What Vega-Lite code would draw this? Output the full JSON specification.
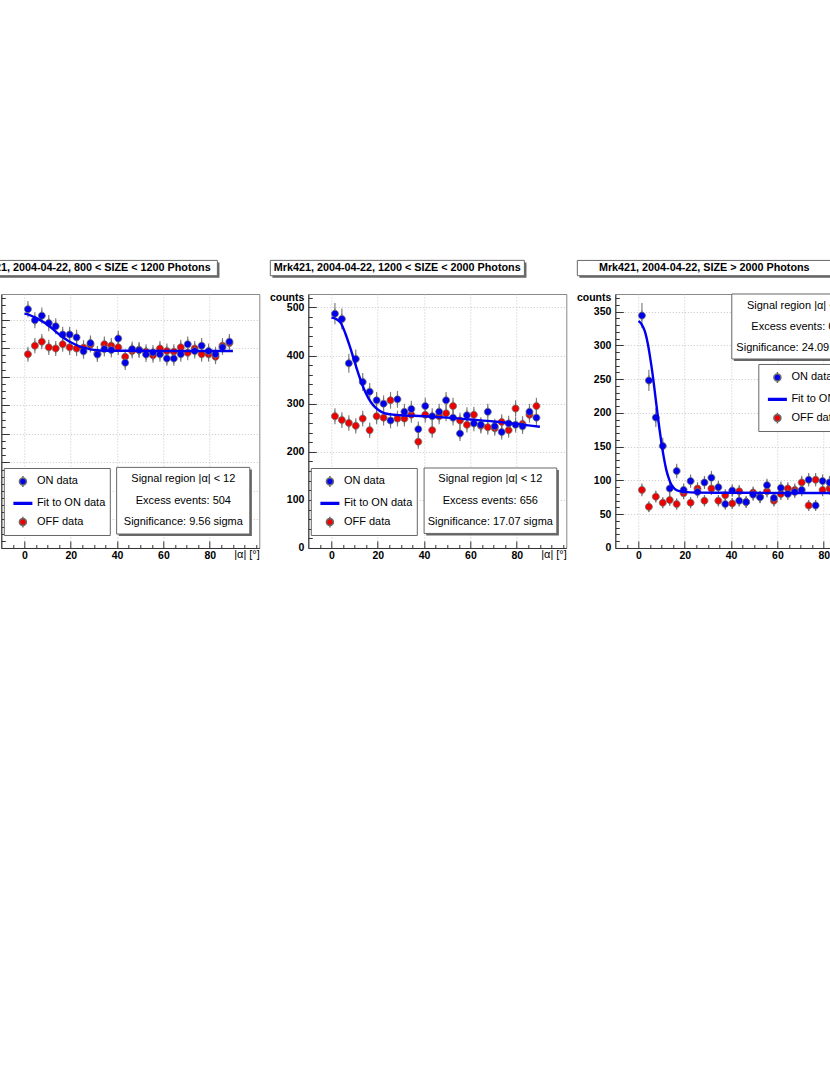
{
  "$schema": "https://vega.github.io/schema/vega-lite/v6.json",
  "description": "Mrk421 2004-04-22 alpha plots, ON vs OFF data in three SIZE bins",
  "background": "white",
  "autosize": {"type": "pad"},
  "padding": {"left": -38.7, "top": 259, "right": -41, "bottom": 0},
  "spacing": 49,
  "bounds": "flush",
  "config": {
    "font": "Liberation Sans",
    "view": {"stroke": "#888888"},
    "axis": {
      "labelFont": "Liberation Sans",
      "labelFontSize": 10.5,
      "labelFontWeight": "bold",
      "labelColor": "#000000",
      "labelFlush": false,
      "labelOverlap": false,
      "domainColor": "#333333",
      "tickColor": "#333333",
      "gridColor": "#c4c4c4",
      "gridDash": [1, 2],
      "titleFont": "Liberation Sans",
      "titleColor": "#000000"
    },
    "legend": {"labelFont": "Liberation Sans", "labelFontSize": 11, "labelColor": "#000000"}
  },
  "resolve": {
    "scale": {"color": "independent", "shape": "independent", "stroke": "independent"},
    "legend": {"color": "independent", "shape": "independent", "stroke": "independent"}
  },
  "datasets": {
    "pts800": [
      {"series": "OFF data", "alpha": 1.5, "counts": 679, "err": 26.1},
      {"series": "OFF data", "alpha": 4.5, "counts": 709, "err": 26.6},
      {"series": "OFF data", "alpha": 7.5, "counts": 723, "err": 26.9},
      {"series": "OFF data", "alpha": 10.5, "counts": 703, "err": 26.5},
      {"series": "OFF data", "alpha": 13.5, "counts": 699, "err": 26.4},
      {"series": "OFF data", "alpha": 16.5, "counts": 714, "err": 26.7},
      {"series": "OFF data", "alpha": 19.5, "counts": 703, "err": 26.5},
      {"series": "OFF data", "alpha": 22.5, "counts": 699, "err": 26.4},
      {"series": "OFF data", "alpha": 25.5, "counts": 702, "err": 26.5},
      {"series": "OFF data", "alpha": 28.5, "counts": 712, "err": 26.7},
      {"series": "OFF data", "alpha": 31.5, "counts": 682, "err": 26.1},
      {"series": "OFF data", "alpha": 34.5, "counts": 714, "err": 26.7},
      {"series": "OFF data", "alpha": 37.5, "counts": 709, "err": 26.6},
      {"series": "OFF data", "alpha": 40.5, "counts": 703, "err": 26.5},
      {"series": "OFF data", "alpha": 43.5, "counts": 670, "err": 25.9},
      {"series": "OFF data", "alpha": 46.5, "counts": 690, "err": 26.3},
      {"series": "OFF data", "alpha": 49.5, "counts": 695, "err": 26.4},
      {"series": "OFF data", "alpha": 52.5, "counts": 688, "err": 26.2},
      {"series": "OFF data", "alpha": 55.5, "counts": 675, "err": 26.0},
      {"series": "OFF data", "alpha": 58.5, "counts": 699, "err": 26.4},
      {"series": "OFF data", "alpha": 61.5, "counts": 690, "err": 26.3},
      {"series": "OFF data", "alpha": 64.5, "counts": 688, "err": 26.2},
      {"series": "OFF data", "alpha": 67.5, "counts": 703, "err": 26.5},
      {"series": "OFF data", "alpha": 70.5, "counts": 684, "err": 26.2},
      {"series": "OFF data", "alpha": 73.5, "counts": 699, "err": 26.4},
      {"series": "OFF data", "alpha": 76.5, "counts": 679, "err": 26.1},
      {"series": "OFF data", "alpha": 79.5, "counts": 679, "err": 26.1},
      {"series": "OFF data", "alpha": 82.5, "counts": 670, "err": 25.9},
      {"series": "OFF data", "alpha": 85.5, "counts": 709, "err": 26.6},
      {"series": "OFF data", "alpha": 88.5, "counts": 718, "err": 26.8},
      {"series": "ON data", "alpha": 1.5, "counts": 837, "err": 28.9},
      {"series": "ON data", "alpha": 4.5, "counts": 798, "err": 28.2},
      {"series": "ON data", "alpha": 7.5, "counts": 814, "err": 28.5},
      {"series": "ON data", "alpha": 10.5, "counts": 788, "err": 28.1},
      {"series": "ON data", "alpha": 13.5, "counts": 777, "err": 27.9},
      {"series": "ON data", "alpha": 16.5, "counts": 748, "err": 27.3},
      {"series": "ON data", "alpha": 19.5, "counts": 748, "err": 27.3},
      {"series": "ON data", "alpha": 22.5, "counts": 738, "err": 27.2},
      {"series": "ON data", "alpha": 25.5, "counts": 689, "err": 26.2},
      {"series": "ON data", "alpha": 28.5, "counts": 718, "err": 26.8},
      {"series": "ON data", "alpha": 31.5, "counts": 678, "err": 26.0},
      {"series": "ON data", "alpha": 34.5, "counts": 697, "err": 26.4},
      {"series": "ON data", "alpha": 37.5, "counts": 694, "err": 26.3},
      {"series": "ON data", "alpha": 40.5, "counts": 734, "err": 27.1},
      {"series": "ON data", "alpha": 43.5, "counts": 649, "err": 25.5},
      {"series": "ON data", "alpha": 46.5, "counts": 697, "err": 26.4},
      {"series": "ON data", "alpha": 49.5, "counts": 693, "err": 26.3},
      {"series": "ON data", "alpha": 52.5, "counts": 678, "err": 26.0},
      {"series": "ON data", "alpha": 55.5, "counts": 685, "err": 26.2},
      {"series": "ON data", "alpha": 58.5, "counts": 679, "err": 26.1},
      {"series": "ON data", "alpha": 61.5, "counts": 664, "err": 25.8},
      {"series": "ON data", "alpha": 64.5, "counts": 664, "err": 25.8},
      {"series": "ON data", "alpha": 67.5, "counts": 679, "err": 26.1},
      {"series": "ON data", "alpha": 70.5, "counts": 714, "err": 26.7},
      {"series": "ON data", "alpha": 73.5, "counts": 690, "err": 26.3},
      {"series": "ON data", "alpha": 76.5, "counts": 709, "err": 26.6},
      {"series": "ON data", "alpha": 79.5, "counts": 690, "err": 26.3},
      {"series": "ON data", "alpha": 82.5, "counts": 679, "err": 26.1},
      {"series": "ON data", "alpha": 85.5, "counts": 703, "err": 26.5},
      {"series": "ON data", "alpha": 88.5, "counts": 723, "err": 26.9}
    ],
    "fit800": [
      {"alpha": 0, "fit": 821}, {"alpha": 2, "fit": 817}, {"alpha": 4, "fit": 810},
      {"alpha": 6, "fit": 802}, {"alpha": 8, "fit": 793}, {"alpha": 10, "fit": 782},
      {"alpha": 12, "fit": 769}, {"alpha": 14, "fit": 755}, {"alpha": 16, "fit": 742},
      {"alpha": 18, "fit": 731}, {"alpha": 20, "fit": 721}, {"alpha": 22, "fit": 713},
      {"alpha": 24, "fit": 706}, {"alpha": 26, "fit": 701}, {"alpha": 28, "fit": 697},
      {"alpha": 30, "fit": 694}, {"alpha": 33, "fit": 692}, {"alpha": 36, "fit": 691},
      {"alpha": 45, "fit": 691}, {"alpha": 60, "fit": 690.5}, {"alpha": 90, "fit": 690.5}
    ],
    "pts1200": [
      {"series": "OFF data", "alpha": 1.5, "counts": 274, "err": 16.6},
      {"series": "OFF data", "alpha": 4.5, "counts": 266, "err": 16.3},
      {"series": "OFF data", "alpha": 7.5, "counts": 260, "err": 16.1},
      {"series": "OFF data", "alpha": 10.5, "counts": 254, "err": 15.9},
      {"series": "OFF data", "alpha": 13.5, "counts": 269, "err": 16.4},
      {"series": "OFF data", "alpha": 16.5, "counts": 245, "err": 15.7},
      {"series": "OFF data", "alpha": 19.5, "counts": 274, "err": 16.6},
      {"series": "OFF data", "alpha": 22.5, "counts": 271, "err": 16.5},
      {"series": "OFF data", "alpha": 25.5, "counts": 307, "err": 17.5},
      {"series": "OFF data", "alpha": 28.5, "counts": 269, "err": 16.4},
      {"series": "OFF data", "alpha": 31.5, "counts": 269, "err": 16.4},
      {"series": "OFF data", "alpha": 34.5, "counts": 277, "err": 16.6},
      {"series": "OFF data", "alpha": 37.5, "counts": 221, "err": 14.9},
      {"series": "OFF data", "alpha": 40.5, "counts": 277, "err": 16.6},
      {"series": "OFF data", "alpha": 43.5, "counts": 245, "err": 15.7},
      {"series": "OFF data", "alpha": 46.5, "counts": 274, "err": 16.6},
      {"series": "OFF data", "alpha": 49.5, "counts": 280, "err": 16.7},
      {"series": "OFF data", "alpha": 52.5, "counts": 295, "err": 17.2},
      {"series": "OFF data", "alpha": 55.5, "counts": 265, "err": 16.3},
      {"series": "OFF data", "alpha": 58.5, "counts": 256, "err": 16.0},
      {"series": "OFF data", "alpha": 61.5, "counts": 277, "err": 16.6},
      {"series": "OFF data", "alpha": 64.5, "counts": 254, "err": 15.9},
      {"series": "OFF data", "alpha": 67.5, "counts": 251, "err": 15.8},
      {"series": "OFF data", "alpha": 70.5, "counts": 249, "err": 15.8},
      {"series": "OFF data", "alpha": 73.5, "counts": 262, "err": 16.2},
      {"series": "OFF data", "alpha": 76.5, "counts": 245, "err": 15.7},
      {"series": "OFF data", "alpha": 79.5, "counts": 290, "err": 17.0},
      {"series": "OFF data", "alpha": 82.5, "counts": 258, "err": 16.1},
      {"series": "OFF data", "alpha": 85.5, "counts": 277, "err": 16.6},
      {"series": "OFF data", "alpha": 88.5, "counts": 295, "err": 17.2},
      {"series": "ON data", "alpha": 1.5, "counts": 487, "err": 22.1},
      {"series": "ON data", "alpha": 4.5, "counts": 476, "err": 21.8},
      {"series": "ON data", "alpha": 7.5, "counts": 384, "err": 19.6},
      {"series": "ON data", "alpha": 10.5, "counts": 393, "err": 19.8},
      {"series": "ON data", "alpha": 13.5, "counts": 345, "err": 18.6},
      {"series": "ON data", "alpha": 16.5, "counts": 325, "err": 18.0},
      {"series": "ON data", "alpha": 19.5, "counts": 307, "err": 17.5},
      {"series": "ON data", "alpha": 22.5, "counts": 300, "err": 17.3},
      {"series": "ON data", "alpha": 25.5, "counts": 265, "err": 16.3},
      {"series": "ON data", "alpha": 28.5, "counts": 309, "err": 17.6},
      {"series": "ON data", "alpha": 31.5, "counts": 283, "err": 16.8},
      {"series": "ON data", "alpha": 34.5, "counts": 289, "err": 17.0},
      {"series": "ON data", "alpha": 37.5, "counts": 247, "err": 15.7},
      {"series": "ON data", "alpha": 40.5, "counts": 295, "err": 17.2},
      {"series": "ON data", "alpha": 43.5, "counts": 274, "err": 16.6},
      {"series": "ON data", "alpha": 46.5, "counts": 283, "err": 16.8},
      {"series": "ON data", "alpha": 49.5, "counts": 307, "err": 17.5},
      {"series": "ON data", "alpha": 52.5, "counts": 271, "err": 16.5},
      {"series": "ON data", "alpha": 55.5, "counts": 238, "err": 15.4},
      {"series": "ON data", "alpha": 58.5, "counts": 276, "err": 16.6},
      {"series": "ON data", "alpha": 61.5, "counts": 259, "err": 16.1},
      {"series": "ON data", "alpha": 64.5, "counts": 256, "err": 16.0},
      {"series": "ON data", "alpha": 67.5, "counts": 283, "err": 16.8},
      {"series": "ON data", "alpha": 70.5, "counts": 253, "err": 15.9},
      {"series": "ON data", "alpha": 73.5, "counts": 241, "err": 15.5},
      {"series": "ON data", "alpha": 76.5, "counts": 259, "err": 16.1},
      {"series": "ON data", "alpha": 79.5, "counts": 256, "err": 16.0},
      {"series": "ON data", "alpha": 82.5, "counts": 253, "err": 15.9},
      {"series": "ON data", "alpha": 85.5, "counts": 283, "err": 16.8},
      {"series": "ON data", "alpha": 88.5, "counts": 271, "err": 16.5}
    ],
    "fit1200": [
      {"alpha": 0, "fit": 479}, {"alpha": 2, "fit": 476}, {"alpha": 4, "fit": 468},
      {"alpha": 6, "fit": 446}, {"alpha": 8, "fit": 418}, {"alpha": 10, "fit": 387},
      {"alpha": 12, "fit": 357}, {"alpha": 14, "fit": 331}, {"alpha": 16, "fit": 311},
      {"alpha": 18, "fit": 297}, {"alpha": 20, "fit": 288}, {"alpha": 22, "fit": 282},
      {"alpha": 24, "fit": 279}, {"alpha": 27, "fit": 277}, {"alpha": 30, "fit": 276},
      {"alpha": 40, "fit": 274}, {"alpha": 50, "fit": 271}, {"alpha": 60, "fit": 267},
      {"alpha": 70, "fit": 263}, {"alpha": 80, "fit": 258}, {"alpha": 90, "fit": 252}
    ],
    "pts2000": [
      {"series": "OFF data", "alpha": 1.5, "counts": 86, "err": 9.3},
      {"series": "OFF data", "alpha": 4.5, "counts": 61, "err": 7.8},
      {"series": "OFF data", "alpha": 7.5, "counts": 76, "err": 8.7},
      {"series": "OFF data", "alpha": 10.5, "counts": 67, "err": 8.2},
      {"series": "OFF data", "alpha": 13.5, "counts": 71, "err": 8.4},
      {"series": "OFF data", "alpha": 16.5, "counts": 65, "err": 8.1},
      {"series": "OFF data", "alpha": 19.5, "counts": 81, "err": 9.0},
      {"series": "OFF data", "alpha": 22.5, "counts": 67, "err": 8.2},
      {"series": "OFF data", "alpha": 25.5, "counts": 88, "err": 9.4},
      {"series": "OFF data", "alpha": 28.5, "counts": 70, "err": 8.4},
      {"series": "OFF data", "alpha": 31.5, "counts": 88, "err": 9.4},
      {"series": "OFF data", "alpha": 34.5, "counts": 70, "err": 8.4},
      {"series": "OFF data", "alpha": 37.5, "counts": 78, "err": 8.8},
      {"series": "OFF data", "alpha": 40.5, "counts": 66, "err": 8.1},
      {"series": "OFF data", "alpha": 43.5, "counts": 84, "err": 9.2},
      {"series": "OFF data", "alpha": 46.5, "counts": 68, "err": 8.2},
      {"series": "OFF data", "alpha": 49.5, "counts": 82, "err": 9.1},
      {"series": "OFF data", "alpha": 52.5, "counts": 76, "err": 8.7},
      {"series": "OFF data", "alpha": 55.5, "counts": 84, "err": 9.2},
      {"series": "OFF data", "alpha": 58.5, "counts": 70, "err": 8.4},
      {"series": "OFF data", "alpha": 61.5, "counts": 80, "err": 8.9},
      {"series": "OFF data", "alpha": 64.5, "counts": 88, "err": 9.4},
      {"series": "OFF data", "alpha": 67.5, "counts": 86, "err": 9.3},
      {"series": "OFF data", "alpha": 70.5, "counts": 97, "err": 9.8},
      {"series": "OFF data", "alpha": 73.5, "counts": 63, "err": 7.9},
      {"series": "OFF data", "alpha": 76.5, "counts": 101, "err": 10.0},
      {"series": "OFF data", "alpha": 79.5, "counts": 86, "err": 9.3},
      {"series": "OFF data", "alpha": 82.5, "counts": 88, "err": 9.4},
      {"series": "OFF data", "alpha": 85.5, "counts": 90, "err": 9.5},
      {"series": "OFF data", "alpha": 88.5, "counts": 85, "err": 9.2},
      {"series": "ON data", "alpha": 1.5, "counts": 344, "err": 18.6},
      {"series": "ON data", "alpha": 4.5, "counts": 248, "err": 15.7},
      {"series": "ON data", "alpha": 7.5, "counts": 193, "err": 13.9},
      {"series": "ON data", "alpha": 10.5, "counts": 151, "err": 12.3},
      {"series": "ON data", "alpha": 13.5, "counts": 88, "err": 9.4},
      {"series": "ON data", "alpha": 16.5, "counts": 114, "err": 10.7},
      {"series": "ON data", "alpha": 19.5, "counts": 86, "err": 9.3},
      {"series": "ON data", "alpha": 22.5, "counts": 99, "err": 9.9},
      {"series": "ON data", "alpha": 25.5, "counts": 83, "err": 9.1},
      {"series": "ON data", "alpha": 28.5, "counts": 97, "err": 9.8},
      {"series": "ON data", "alpha": 31.5, "counts": 104, "err": 10.2},
      {"series": "ON data", "alpha": 34.5, "counts": 90, "err": 9.5},
      {"series": "ON data", "alpha": 37.5, "counts": 65, "err": 8.1},
      {"series": "ON data", "alpha": 40.5, "counts": 85, "err": 9.2},
      {"series": "ON data", "alpha": 43.5, "counts": 70, "err": 8.4},
      {"series": "ON data", "alpha": 46.5, "counts": 68, "err": 8.2},
      {"series": "ON data", "alpha": 49.5, "counts": 79, "err": 8.9},
      {"series": "ON data", "alpha": 52.5, "counts": 75, "err": 8.7},
      {"series": "ON data", "alpha": 55.5, "counts": 93, "err": 9.6},
      {"series": "ON data", "alpha": 58.5, "counts": 74, "err": 8.6},
      {"series": "ON data", "alpha": 61.5, "counts": 89, "err": 9.4},
      {"series": "ON data", "alpha": 64.5, "counts": 80, "err": 8.9},
      {"series": "ON data", "alpha": 67.5, "counts": 83, "err": 9.1},
      {"series": "ON data", "alpha": 70.5, "counts": 86, "err": 9.3},
      {"series": "ON data", "alpha": 73.5, "counts": 101, "err": 10.0},
      {"series": "ON data", "alpha": 76.5, "counts": 63, "err": 7.9},
      {"series": "ON data", "alpha": 79.5, "counts": 99, "err": 9.9},
      {"series": "ON data", "alpha": 82.5, "counts": 97, "err": 9.8},
      {"series": "ON data", "alpha": 85.5, "counts": 95, "err": 9.7},
      {"series": "ON data", "alpha": 88.5, "counts": 90, "err": 9.5}
    ],
    "fit2000": [
      {"alpha": 0, "fit": 336}, {"alpha": 1, "fit": 333}, {"alpha": 2, "fit": 327},
      {"alpha": 3, "fit": 318}, {"alpha": 4, "fit": 303}, {"alpha": 5, "fit": 283},
      {"alpha": 6, "fit": 260}, {"alpha": 7, "fit": 233}, {"alpha": 8, "fit": 205},
      {"alpha": 9, "fit": 178}, {"alpha": 10, "fit": 154}, {"alpha": 11, "fit": 133},
      {"alpha": 12, "fit": 116}, {"alpha": 13, "fit": 104}, {"alpha": 14, "fit": 95},
      {"alpha": 15, "fit": 90}, {"alpha": 16, "fit": 86.5}, {"alpha": 18, "fit": 84},
      {"alpha": 20, "fit": 83}, {"alpha": 25, "fit": 82}, {"alpha": 40, "fit": 81.8},
      {"alpha": 60, "fit": 81.5}, {"alpha": 90, "fit": 81.5}
    ]
  },
  "hconcat": [
    {
      "width": 258,
      "height": 254,
      "layer": [
        {
          "data": {"name": "pts800"},
          "mark": {"type": "errorbar", "color": "#808080", "thickness": 1.2},
          "encoding": {
            "x": {"field": "alpha", "type": "quantitative"},
            "y": {"field": "counts", "type": "quantitative"},
            "yError": {"field": "err"}
          }
        },
        {
          "data": {"name": "pts800"},
          "mark": {"type": "point", "filled": true, "size": 306, "opacity": 1, "strokeWidth": 0.8},
          "encoding": {
            "x": {
              "field": "alpha", "type": "quantitative",
              "scale": {"domain": [-10, 101.4], "nice": false, "zero": false},
              "axis": {
                "values": [-5, 0, 5, 10, 15, 20, 25, 30, 35, 40, 45, 50, 55, 60, 65, 70, 75, 80, 85, 90, 95, 100],
                "tickCount": 200,
                "format": "d",
                "labelExpr": "datum.value % 20 === 0 && datum.value >= 0 && datum.value <= 80 ? datum.label : ''",
                "labelOverlap": false,
                "tickSize": {"condition": {"test": "datum.value % 20 === 0 && datum.value < 100", "value": -7}, "value": -3.5},
                "gridOpacity": {"condition": {"test": "datum.value % 20 === 0 && datum.value < 100", "value": 1}, "value": 0},
                "grid": true,
                "labelPadding": 10,
                "title": "|α| [°]",
                "titleFontWeight": "normal",
                "titleFontSize": 11,
                "titleAlign": "right",
                "titleBaseline": "middle",
                "titleX": 258,
                "titleY": 7
              }
            },
            "y": {
              "field": "counts", "type": "quantitative",
              "scale": {"domain": [0, 890], "nice": false},
              "axis": {
                "values": [0, 25, 50, 75, 100, 125, 150, 175, 200, 225, 250, 275, 300, 325, 350, 375, 400, 425, 450, 475, 500, 525, 550, 575, 600, 625, 650, 675, 700, 725, 750, 775, 800, 825, 850, 875],
                "tickCount": 200,
                "format": "d",
                "labelExpr": "datum.value % 100 === 0 ? datum.label : ''",
                "labelOverlap": false,
                "tickSize": {"condition": {"test": "datum.value % 100 === 0", "value": -8}, "value": -4},
                "gridOpacity": {"condition": {"test": "datum.value % 100 === 0", "value": 1}, "value": 0},
                "grid": true,
                "labelPadding": 12.5,
                "title": "counts",
                "titleAngle": 0,
                "titleAlign": "right",
                "titleBaseline": "middle",
                "titleFontWeight": "bold",
                "titleFontSize": 10.5,
                "titleX": -4.5,
                "titleY": 3.5
              }
            },
            "color": {
              "field": "series", "type": "nominal",
              "scale": {"domain": ["ON data", "Fit to ON data", "OFF data"], "range": ["#0000ee", "#0000ee", "#ee0000"]},
              "legend": {
                "title": null, "orient": "none", "legendX": 2.5, "legendY": 174,
                "fillColor": "white", "strokeColor": "#666666", "padding": 4,
                "rowPadding": 3.8, "symbolOffset": 5.6, "labelOffset": 4.5, "symbolSize": 306
              }
            },
            "stroke": {
              "field": "series", "type": "nominal",
              "scale": {"domain": ["ON data", "Fit to ON data", "OFF data"], "range": ["#6a6a6a", "#0000ee", "#6a6a6a"]},
              "legend": {
                "title": null, "orient": "none", "legendX": 2.5, "legendY": 174,
                "fillColor": "white", "strokeColor": "#666666", "padding": 4,
                "rowPadding": 3.8, "symbolOffset": 5.6, "labelOffset": 4.5, "symbolSize": 306
              }
            },
            "shape": {
              "field": "series", "type": "nominal",
              "scale": {
                "domain": ["ON data", "Fit to ON data", "OFF data"],
                "range": [
                  "M0,-0.62V-0.4M0,0.4V0.62M0.4,0A0.4,0.4,0,1,1,-0.4,0A0.4,0.4,0,1,1,0.4,0Z",
                  "M-1,-0.1H1V0.1H-1Z",
                  "M0,-0.62V-0.4M0,0.4V0.62M0.4,0A0.4,0.4,0,1,1,-0.4,0A0.4,0.4,0,1,1,0.4,0Z"
                ]
              },
              "legend": {
                "title": null, "orient": "none", "legendX": 2.5, "legendY": 174,
                "fillColor": "white", "strokeColor": "#666666", "padding": 4,
                "rowPadding": 3.8, "symbolOffset": 5.6, "labelOffset": 4.5, "symbolSize": 306
              }
            }
          }
        },
        {
          "data": {"name": "fit800"},
          "mark": {"type": "line", "color": "#0000ee", "strokeWidth": 2.4, "interpolate": "monotone"},
          "encoding": {
            "x": {"field": "alpha", "type": "quantitative"},
            "y": {"field": "fit", "type": "quantitative"}
          }
        },
        {
          "data": {"values": [{}]},
          "mark": {"type": "rect", "fill": "#666666"},
          "encoding": {
            "x": {"datum": -25.5, "type": "quantitative"},
            "x2": {"datum": 84.2},
            "y": {"datum": 1000.7, "type": "quantitative"},
            "y2": {"datum": 947.1}
          }
        },
        {
          "data": {"values": [{}]},
          "mark": {"type": "rect", "fill": "white", "stroke": "#666666", "strokeWidth": 1},
          "encoding": {
            "x": {"datum": -26.4, "type": "quantitative"},
            "x2": {"datum": 83.3},
            "y": {"datum": 1007.7, "type": "quantitative"},
            "y2": {"datum": 954.1}
          }
        },
        {
          "data": {"values": [{}]},
          "mark": {"type": "text", "font": "Liberation Sans", "fontSize": 10.8, "fontWeight": "bold", "align": "center", "baseline": "middle", "color": "#000000"},
          "encoding": {
            "x": {"datum": 28.4, "type": "quantitative"},
            "y": {"datum": 981, "type": "quantitative"},
            "text": {"value": "Mrk421, 2004-04-22, 800 < SIZE < 1200 Photons"}
          }
        },
        {
          "data": {"values": [{}]},
          "mark": {"type": "rect", "fill": "#666666"},
          "encoding": {
            "x": {"datum": 40.7, "type": "quantitative"},
            "x2": {"datum": 98.2},
            "y": {"datum": 275.4, "type": "quantitative"},
            "y2": {"datum": 42}
          }
        },
        {
          "data": {"values": [{}]},
          "mark": {"type": "rect", "fill": "white", "stroke": "#666666", "strokeWidth": 1},
          "encoding": {
            "x": {"datum": 39.8, "type": "quantitative"},
            "x2": {"datum": 97.3},
            "y": {"datum": 282.4, "type": "quantitative"},
            "y2": {"datum": 49}
          }
        },
        {
          "data": {"values": [{}]},
          "mark": {"type": "text", "font": "Liberation Sans", "fontSize": 11, "align": "center", "baseline": "middle", "lineHeight": 21.3, "color": "#000000"},
          "encoding": {
            "x": {"datum": 68.6, "type": "quantitative"},
            "y": {"datum": 240.4, "type": "quantitative"},
            "text": {"value": ["Signal region |α| < 12", "Excess events: 504", "Significance: 9.56 sigma"]}
          }
        }
      ]
    },
    {
      "width": 258,
      "height": 254,
      "layer": [
        {
          "data": {"name": "pts1200"},
          "mark": {"type": "errorbar", "color": "#808080", "thickness": 1.2},
          "encoding": {
            "x": {"field": "alpha", "type": "quantitative"},
            "y": {"field": "counts", "type": "quantitative"},
            "yError": {"field": "err"}
          }
        },
        {
          "data": {"name": "pts1200"},
          "mark": {"type": "point", "filled": true, "size": 306, "opacity": 1, "strokeWidth": 0.8},
          "encoding": {
            "x": {
              "field": "alpha", "type": "quantitative",
              "scale": {"domain": [-10, 101.4], "nice": false, "zero": false},
              "axis": {
                "values": [-5, 0, 5, 10, 15, 20, 25, 30, 35, 40, 45, 50, 55, 60, 65, 70, 75, 80, 85, 90, 95, 100],
                "tickCount": 200,
                "format": "d",
                "labelExpr": "datum.value % 20 === 0 && datum.value >= 0 && datum.value <= 80 ? datum.label : ''",
                "labelOverlap": false,
                "tickSize": {"condition": {"test": "datum.value % 20 === 0 && datum.value < 100", "value": -7}, "value": -3.5},
                "gridOpacity": {"condition": {"test": "datum.value % 20 === 0 && datum.value < 100", "value": 1}, "value": 0},
                "grid": true,
                "labelPadding": 10,
                "title": "|α| [°]",
                "titleFontWeight": "normal",
                "titleFontSize": 11,
                "titleAlign": "right",
                "titleBaseline": "middle",
                "titleX": 258,
                "titleY": 7
              }
            },
            "y": {
              "field": "counts", "type": "quantitative",
              "scale": {"domain": [0, 528], "nice": false},
              "axis": {
                "values": [0, 20, 40, 60, 80, 100, 120, 140, 160, 180, 200, 220, 240, 260, 280, 300, 320, 340, 360, 380, 400, 420, 440, 460, 480, 500, 520],
                "tickCount": 200,
                "format": "d",
                "labelExpr": "datum.value % 100 === 0 ? datum.label : ''",
                "labelOverlap": false,
                "tickSize": {"condition": {"test": "datum.value % 100 === 0", "value": -8}, "value": -4},
                "gridOpacity": {"condition": {"test": "datum.value % 100 === 0", "value": 1}, "value": 0},
                "grid": true,
                "labelPadding": 12.5,
                "title": "counts",
                "titleAngle": 0,
                "titleAlign": "right",
                "titleBaseline": "middle",
                "titleFontWeight": "bold",
                "titleFontSize": 10.5,
                "titleX": -4.5,
                "titleY": 3.5
              }
            },
            "color": {
              "field": "series", "type": "nominal",
              "scale": {"domain": ["ON data", "Fit to ON data", "OFF data"], "range": ["#0000ee", "#0000ee", "#ee0000"]},
              "legend": {
                "title": null, "orient": "none", "legendX": 2.5, "legendY": 174,
                "fillColor": "white", "strokeColor": "#666666", "padding": 4,
                "rowPadding": 3.8, "symbolOffset": 5.6, "labelOffset": 4.5, "symbolSize": 306
              }
            },
            "stroke": {
              "field": "series", "type": "nominal",
              "scale": {"domain": ["ON data", "Fit to ON data", "OFF data"], "range": ["#6a6a6a", "#0000ee", "#6a6a6a"]},
              "legend": {
                "title": null, "orient": "none", "legendX": 2.5, "legendY": 174,
                "fillColor": "white", "strokeColor": "#666666", "padding": 4,
                "rowPadding": 3.8, "symbolOffset": 5.6, "labelOffset": 4.5, "symbolSize": 306
              }
            },
            "shape": {
              "field": "series", "type": "nominal",
              "scale": {
                "domain": ["ON data", "Fit to ON data", "OFF data"],
                "range": [
                  "M0,-0.62V-0.4M0,0.4V0.62M0.4,0A0.4,0.4,0,1,1,-0.4,0A0.4,0.4,0,1,1,0.4,0Z",
                  "M-1,-0.1H1V0.1H-1Z",
                  "M0,-0.62V-0.4M0,0.4V0.62M0.4,0A0.4,0.4,0,1,1,-0.4,0A0.4,0.4,0,1,1,0.4,0Z"
                ]
              },
              "legend": {
                "title": null, "orient": "none", "legendX": 2.5, "legendY": 174,
                "fillColor": "white", "strokeColor": "#666666", "padding": 4,
                "rowPadding": 3.8, "symbolOffset": 5.6, "labelOffset": 4.5, "symbolSize": 306
              }
            }
          }
        },
        {
          "data": {"name": "fit1200"},
          "mark": {"type": "line", "color": "#0000ee", "strokeWidth": 2.4, "interpolate": "monotone"},
          "encoding": {
            "x": {"field": "alpha", "type": "quantitative"},
            "y": {"field": "fit", "type": "quantitative"}
          }
        },
        {
          "data": {"values": [{}]},
          "mark": {"type": "rect", "fill": "#666666"},
          "encoding": {
            "x": {"datum": -25.5, "type": "quantitative"},
            "x2": {"datum": 84.2},
            "y": {"datum": 593.7, "type": "quantitative"},
            "y2": {"datum": 561.8}
          }
        },
        {
          "data": {"values": [{}]},
          "mark": {"type": "rect", "fill": "white", "stroke": "#666666", "strokeWidth": 1},
          "encoding": {
            "x": {"datum": -26.4, "type": "quantitative"},
            "x2": {"datum": 83.3},
            "y": {"datum": 597.9, "type": "quantitative"},
            "y2": {"datum": 566}
          }
        },
        {
          "data": {"values": [{}]},
          "mark": {"type": "text", "font": "Liberation Sans", "fontSize": 10.8, "fontWeight": "bold", "align": "center", "baseline": "middle", "color": "#000000"},
          "encoding": {
            "x": {"datum": 28.4, "type": "quantitative"},
            "y": {"datum": 582, "type": "quantitative"},
            "text": {"value": "Mrk421, 2004-04-22, 1200 < SIZE < 2000 Photons"}
          }
        },
        {
          "data": {"values": [{}]},
          "mark": {"type": "rect", "fill": "#666666"},
          "encoding": {
            "x": {"datum": 40.9, "type": "quantitative"},
            "x2": {"datum": 98.2},
            "y": {"datum": 162.1, "type": "quantitative"},
            "y2": {"datum": 26.1}
          }
        },
        {
          "data": {"values": [{}]},
          "mark": {"type": "rect", "fill": "white", "stroke": "#666666", "strokeWidth": 1},
          "encoding": {
            "x": {"datum": 40, "type": "quantitative"},
            "x2": {"datum": 97.3},
            "y": {"datum": 166.3, "type": "quantitative"},
            "y2": {"datum": 30.3}
          }
        },
        {
          "data": {"values": [{}]},
          "mark": {"type": "text", "font": "Liberation Sans", "fontSize": 11, "align": "center", "baseline": "middle", "lineHeight": 21.3, "color": "#000000"},
          "encoding": {
            "x": {"datum": 68.6, "type": "quantitative"},
            "y": {"datum": 142.6, "type": "quantitative"},
            "text": {"value": ["Signal region |α| < 12", "Excess events: 656", "Significance: 17.07 sigma"]}
          }
        }
      ]
    },
    {
      "width": 258,
      "height": 254,
      "layer": [
        {
          "data": {"name": "pts2000"},
          "mark": {"type": "errorbar", "color": "#808080", "thickness": 1.2},
          "encoding": {
            "x": {"field": "alpha", "type": "quantitative"},
            "y": {"field": "counts", "type": "quantitative"},
            "yError": {"field": "err"}
          }
        },
        {
          "data": {"name": "pts2000"},
          "mark": {"type": "point", "filled": true, "size": 306, "opacity": 1, "strokeWidth": 0.8},
          "encoding": {
            "x": {
              "field": "alpha", "type": "quantitative",
              "scale": {"domain": [-10, 101.4], "nice": false, "zero": false},
              "axis": {
                "values": [-5, 0, 5, 10, 15, 20, 25, 30, 35, 40, 45, 50, 55, 60, 65, 70, 75, 80, 85, 90, 95, 100],
                "tickCount": 200,
                "format": "d",
                "labelExpr": "datum.value % 20 === 0 && datum.value >= 0 && datum.value <= 80 ? datum.label : ''",
                "labelOverlap": false,
                "tickSize": {"condition": {"test": "datum.value % 20 === 0 && datum.value < 100", "value": -7}, "value": -3.5},
                "gridOpacity": {"condition": {"test": "datum.value % 20 === 0 && datum.value < 100", "value": 1}, "value": 0},
                "grid": true,
                "labelPadding": 10,
                "title": "|α| [°]",
                "titleFontWeight": "normal",
                "titleFontSize": 11,
                "titleAlign": "right",
                "titleBaseline": "middle",
                "titleX": 258,
                "titleY": 7
              }
            },
            "y": {
              "field": "counts", "type": "quantitative",
              "scale": {"domain": [0, 376], "nice": false},
              "axis": {
                "values": [0, 10, 20, 30, 40, 50, 60, 70, 80, 90, 100, 110, 120, 130, 140, 150, 160, 170, 180, 190, 200, 210, 220, 230, 240, 250, 260, 270, 280, 290, 300, 310, 320, 330, 340, 350, 360, 370],
                "tickCount": 200,
                "format": "d",
                "labelExpr": "datum.value % 50 === 0 ? datum.label : ''",
                "labelOverlap": false,
                "tickSize": {"condition": {"test": "datum.value % 50 === 0", "value": -8}, "value": -4},
                "gridOpacity": {"condition": {"test": "datum.value % 50 === 0", "value": 1}, "value": 0},
                "grid": true,
                "labelPadding": 12.5,
                "title": "counts",
                "titleAngle": 0,
                "titleAlign": "right",
                "titleBaseline": "middle",
                "titleFontWeight": "bold",
                "titleFontSize": 10.5,
                "titleX": -4.5,
                "titleY": 3.5
              }
            },
            "color": {
              "field": "series", "type": "nominal",
              "scale": {"domain": ["ON data", "Fit to ON data", "OFF data"], "range": ["#0000ee", "#0000ee", "#ee0000"]},
              "legend": {
                "title": null, "orient": "none", "legendX": 143, "legendY": 70,
                "fillColor": "white", "strokeColor": "#666666", "padding": 4,
                "rowPadding": 3.8, "symbolOffset": 5.6, "labelOffset": 4.5, "symbolSize": 306
              }
            },
            "stroke": {
              "field": "series", "type": "nominal",
              "scale": {"domain": ["ON data", "Fit to ON data", "OFF data"], "range": ["#6a6a6a", "#0000ee", "#6a6a6a"]},
              "legend": {
                "title": null, "orient": "none", "legendX": 143, "legendY": 70,
                "fillColor": "white", "strokeColor": "#666666", "padding": 4,
                "rowPadding": 3.8, "symbolOffset": 5.6, "labelOffset": 4.5, "symbolSize": 306
              }
            },
            "shape": {
              "field": "series", "type": "nominal",
              "scale": {
                "domain": ["ON data", "Fit to ON data", "OFF data"],
                "range": [
                  "M0,-0.62V-0.4M0,0.4V0.62M0.4,0A0.4,0.4,0,1,1,-0.4,0A0.4,0.4,0,1,1,0.4,0Z",
                  "M-1,-0.1H1V0.1H-1Z",
                  "M0,-0.62V-0.4M0,0.4V0.62M0.4,0A0.4,0.4,0,1,1,-0.4,0A0.4,0.4,0,1,1,0.4,0Z"
                ]
              },
              "legend": {
                "title": null, "orient": "none", "legendX": 143, "legendY": 70,
                "fillColor": "white", "strokeColor": "#666666", "padding": 4,
                "rowPadding": 3.8, "symbolOffset": 5.6, "labelOffset": 4.5, "symbolSize": 306
              }
            }
          }
        },
        {
          "data": {"name": "fit2000"},
          "mark": {"type": "line", "color": "#0000ee", "strokeWidth": 2.4, "interpolate": "monotone"},
          "encoding": {
            "x": {"field": "alpha", "type": "quantitative"},
            "y": {"field": "fit", "type": "quantitative"}
          }
        },
        {
          "data": {"values": [{}]},
          "mark": {"type": "rect", "fill": "#666666"},
          "encoding": {
            "x": {"datum": -25.5, "type": "quantitative"},
            "x2": {"datum": 84.2},
            "y": {"datum": 422.7, "type": "quantitative"},
            "y2": {"datum": 400.1}
          }
        },
        {
          "data": {"values": [{}]},
          "mark": {"type": "rect", "fill": "white", "stroke": "#666666", "strokeWidth": 1},
          "encoding": {
            "x": {"datum": -26.4, "type": "quantitative"},
            "x2": {"datum": 83.3},
            "y": {"datum": 425.7, "type": "quantitative"},
            "y2": {"datum": 403.1}
          }
        },
        {
          "data": {"values": [{}]},
          "mark": {"type": "text", "font": "Liberation Sans", "fontSize": 10.8, "fontWeight": "bold", "align": "center", "baseline": "middle", "color": "#000000"},
          "encoding": {
            "x": {"datum": 28.4, "type": "quantitative"},
            "y": {"datum": 414.5, "type": "quantitative"},
            "text": {"value": "Mrk421, 2004-04-22, SIZE > 2000 Photons"}
          }
        },
        {
          "data": {"values": [{}]},
          "mark": {"type": "rect", "fill": "#666666"},
          "encoding": {
            "x": {"datum": 41.2, "type": "quantitative"},
            "x2": {"datum": 99.3},
            "y": {"datum": 373, "type": "quantitative"},
            "y2": {"datum": 276.8}
          }
        },
        {
          "data": {"values": [{}]},
          "mark": {"type": "rect", "fill": "white", "stroke": "#666666", "strokeWidth": 1},
          "encoding": {
            "x": {"datum": 40.3, "type": "quantitative"},
            "x2": {"datum": 98.4},
            "y": {"datum": 376, "type": "quantitative"},
            "y2": {"datum": 279.8}
          }
        },
        {
          "data": {"values": [{}]},
          "mark": {"type": "text", "font": "Liberation Sans", "fontSize": 11, "align": "center", "baseline": "middle", "lineHeight": 21.3, "color": "#000000"},
          "encoding": {
            "x": {"datum": 69.3, "type": "quantitative"},
            "y": {"datum": 358.7, "type": "quantitative"},
            "text": {"value": ["Signal region |α| < 12", "Excess events: 646", "Significance: 24.09 sigma"]}
          }
        }
      ]
    }
  ]
}
